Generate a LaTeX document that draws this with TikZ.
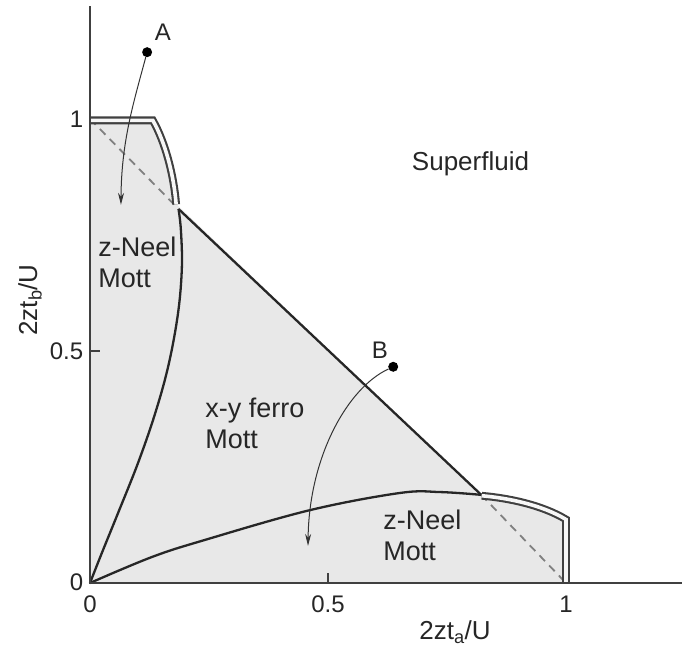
\documentclass[tikz,border=0pt]{standalone}
\usepackage{fontspec}
\setmainfont{Liberation Sans}
\usetikzlibrary{arrows.meta}
\begin{document}
\begin{tikzpicture}[x=476pt,y=464pt,
 lbl/.style={font=\fontsize{27}{31}\selectfont, text=black!85, align=left, inner sep=0pt, anchor=north west},
 ticklbl/.style={font=\fontsize{24}{26}\selectfont, text=black!85, inner sep=0pt},
 axlbl/.style={font=\fontsize{26}{28}\selectfont, text=black!85, inner sep=0pt},
 bnd/.style={line width=2.3pt, draw=black!85},
 axisline/.style={line width=1.8pt, draw=black!75},
 dbl/.style={draw=black!75, line width=2.1pt, double=black!3, double distance=3.6pt},
 pt/.style={circle, fill=black, inner sep=0pt, minimum size=10pt},
 arr/.style={draw=black!80, line width=1pt, -{Stealth[length=12pt,width=6pt]}}]
\useasboundingbox (-0.18908,-0.14655) rectangle (1.24790,1.25647);
% region fill
\fill[black!9] (0,0) -- (0,0.997) -- (0.132,0.997) .. controls (0.158,0.95) and (0.176,0.88) .. (0.18,0.818)
  -- (0.822,0.188) .. controls (0.88,0.183) and (0.95,0.168) .. (1.0,0.137) -- (1,0) -- cycle;
\coordinate (J1) at (0.186,0.806);
\coordinate (J2) at (0.822,0.19);
\coordinate (O) at (0,0);
% dashed x+y=1 (visible parts)
\draw[black!50, line width=1.8pt, dash pattern=on 8pt off 6pt] (0,1) -- (J1);
\draw[black!50, line width=1.8pt, dash pattern=on 8pt off 6pt] (J2) -- (1,0);
% boundaries
\draw[bnd] (J1) -- (J2);
\draw[bnd] plot[smooth, tension=0.6] coordinates {(0,0) (0.025,0.065) (0.059,0.151) (0.101,0.259) (0.137,0.366) (0.165,0.47) (0.185,0.582) (0.193,0.68) (0.191,0.76) (0.186,0.806)};
\draw[bnd] plot[smooth, tension=0.6] coordinates {(0,0) (0.13,0.056) (0.242,0.093) (0.462,0.157) (0.651,0.194) (0.735,0.196) (0.822,0.19)};
% double lines
\draw[dbl] (0,0.997) -- (0.132,0.997) .. controls (0.158,0.95) and (0.176,0.88) .. (0.181,0.816);
\draw[dbl] (0.823,0.188) .. controls (0.88,0.183) and (0.95,0.168) .. (1.0,0.137) -- (1.0,0.002);
% axes
\draw[axisline] (0,1.243) -- (O) -- (1.243,0);
\draw[axisline, line width=1.1pt] (0.5,0) -- ++(0,10pt) (0,0.5) -- ++(10pt,0);
% tick labels
\node[ticklbl, anchor=east] (y0) at (-0.014,0.002) {0};
\node[ticklbl, anchor=east] (y05) at (-0.014,0.5) {0.5};
\node[ticklbl, anchor=east] (y1) at (-0.014,1.0) {1};
\node[ticklbl, anchor=north] (x0) at (0,-0.028) {0};
\node[ticklbl, anchor=north] (x05) at (0.5,-0.028) {0.5};
\node[ticklbl, anchor=north] (x1) at (1.0,-0.028) {1};
% axis labels
\node[axlbl, rotate=90] (ylab) at (-0.126,0.61) {2zt\textsubscript{b}/U};
\node[axlbl] (xlab) at (0.767,-0.106) {2zt\textsubscript{a}/U};
% region labels
\node[lbl, font=\fontsize{26}{30}\selectfont, anchor=west] (sf) at (0.676,0.903) {Superfluid};
\node[lbl] (zn1) at (0.017,0.746) {z-Neel\\Mott};
\node[lbl] (xy) at (0.242,0.40) {x-y ferro\\Mott};
\node[lbl] (zn2) at (0.616,0.157) {z-Neel\\Mott};
% points A and B
\node[pt] (A) at (0.120,1.144) {};
\node[ticklbl] (Alab) at (0.153,1.188) {A};
\coordinate (Aend) at (0.065,0.815);
\draw[arr] (A) .. controls (0.09,1.03) and (0.066,0.95) .. (Aend);
\node[pt] (B) at (0.637,0.466) {};
\node[ticklbl] (Blab) at (0.609,0.502) {B};
\coordinate (Bend) at (0.458,0.08);
\draw[arr] (B) .. controls (0.54,0.42) and (0.46,0.27) .. (Bend);
\end{tikzpicture}
\end{document}
